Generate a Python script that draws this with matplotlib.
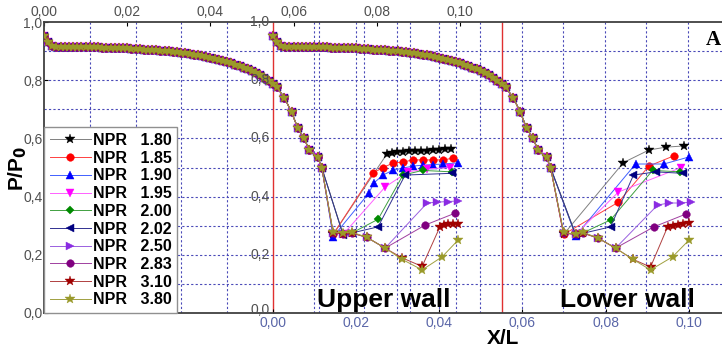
import matplotlib
matplotlib.use("Agg")
import matplotlib.pyplot as plt
import matplotlib.transforms as mtransforms

plt.rcParams['font.family'] = ['Liberation Sans', 'DejaVu Sans']

# shift of the lower-wall curves on the shared axis (top axis units)
OFF = 0.055

# smooth part, same for every NPR (x/L, P/P0)
x_common = [0.000, 0.001, 0.002, 0.003, 0.004, 0.005, 0.006, 0.007, 0.008, 0.009,
            0.010, 0.011, 0.012, 0.013, 0.014, 0.015, 0.016, 0.017, 0.018, 0.019,
            0.020, 0.021, 0.022, 0.023, 0.024, 0.025, 0.026, 0.027, 0.028, 0.029,
            0.030, 0.031, 0.032, 0.033, 0.034, 0.035, 0.036, 0.037, 0.038, 0.039,
            0.040, 0.041, 0.042, 0.043, 0.044, 0.045, 0.046, 0.047, 0.048, 0.049,
            0.050, 0.051, 0.052, 0.053, 0.054, 0.055, 0.056,
            0.0578, 0.0595, 0.0610, 0.0625, 0.0638, 0.0658, 0.0668]
p_common = [0.952, 0.930, 0.917, 0.915, 0.915, 0.915, 0.915, 0.914, 0.914, 0.914,
            0.914, 0.913, 0.913, 0.913, 0.912, 0.912, 0.911, 0.911, 0.910, 0.910,
            0.909, 0.908, 0.907, 0.906, 0.905, 0.904, 0.904, 0.903, 0.902, 0.901,
            0.899, 0.898, 0.896, 0.894, 0.892, 0.890, 0.888, 0.885, 0.883, 0.880,
            0.877, 0.874, 0.870, 0.866, 0.862, 0.858, 0.853, 0.848, 0.843, 0.838,
            0.832, 0.825, 0.817, 0.808, 0.797, 0.786, 0.775,
            0.740, 0.690, 0.636, 0.600, 0.560, 0.535, 0.498]

npr = ['1.80', '1.85', '1.90', '1.95', '2.00', '2.02', '2.50', '2.83', '3.10', '3.80']
colors = ['black', '#ff0000', '#0000ff', '#ff00ff', '#008a00', '#000080',
          '#8a2be2', '#800080', '#a00000', '#9a9a2a']
line_colors = ['#808080', '#ff4040', '#4060ff', '#ff60ff', '#40a040', '#303090',
               '#9a60e0', '#a040a0', '#b04040', '#a0a040']
markers = ['*', 'o', '^', 'v', 'D', '<', '>', 'o', '*', '*']
msizes = [7, 5.5, 5.5, 5.5, 4.5, 5.5, 5.5, 5.5, 7, 7]

# upper wall, after the common part
upper_x = [
    [0.0695, 0.0825, 0.0837, 0.0849, 0.0863, 0.0877, 0.0892, 0.0906, 0.0921, 0.0935, 0.0950, 0.0964, 0.0978],
    [0.0695, 0.0791, 0.0815, 0.0839, 0.0863, 0.0887, 0.0911, 0.0935, 0.0959, 0.0983],
    [0.0695, 0.0781, 0.0793, 0.0815, 0.0839, 0.0863, 0.0887, 0.0911, 0.0935, 0.0959, 0.0995],
    [0.0719, 0.0820, 0.0875, 0.0920, 0.0976],
    [0.0719, 0.0740, 0.0803, 0.0863, 0.0910, 0.0981],
    [0.0719, 0.0740, 0.0803, 0.0868, 0.0980],
    [0.0695, 0.0719, 0.0740, 0.0776, 0.0820, 0.0921, 0.0945, 0.0970, 0.0995],
    [0.0695, 0.0719, 0.0740, 0.0776, 0.0820, 0.0916, 0.0988],
    [0.0695, 0.0719, 0.0740, 0.0776, 0.0820, 0.0860, 0.0909, 0.0952, 0.0962, 0.0972, 0.0982, 0.0995],
    [0.0695, 0.0719, 0.0740, 0.0776, 0.0820, 0.0860, 0.0909, 0.0957, 0.0995],
]
upper_p = [
    [0.270, 0.548, 0.551, 0.552, 0.554, 0.555, 0.556, 0.557, 0.558, 0.559, 0.560, 0.562, 0.565],
    [0.270, 0.481, 0.500, 0.515, 0.519, 0.526, 0.526, 0.526, 0.526, 0.532],
    [0.262, 0.412, 0.447, 0.474, 0.491, 0.498, 0.505, 0.508, 0.510, 0.512, 0.516],
    [0.270, 0.433, 0.485, 0.495, 0.500],
    [0.270, 0.275, 0.322, 0.474, 0.490, 0.485],
    [0.268, 0.275, 0.296, 0.474, 0.480],
    [0.275, 0.272, 0.275, 0.260, 0.223, 0.378, 0.381, 0.383, 0.385],
    [0.275, 0.272, 0.275, 0.260, 0.223, 0.302, 0.343],
    [0.275, 0.272, 0.275, 0.260, 0.223, 0.190, 0.160, 0.297, 0.303, 0.305, 0.306, 0.307],
    [0.278, 0.275, 0.278, 0.260, 0.223, 0.185, 0.148, 0.193, 0.250],
]

# lower wall, after the common part
lower_x = [
    [0.0699, 0.0843, 0.0904, 0.0945, 0.0988],
    [0.0699, 0.0831, 0.0904, 0.0964],
    [0.0728, 0.0872, 0.0940, 0.1000],
    [0.0728, 0.0831, 0.0982],
    [0.0728, 0.0745, 0.0812, 0.0913, 0.0980],
    [0.0728, 0.0812, 0.0867, 0.0920, 0.0986],
    [0.0699, 0.0728, 0.0745, 0.0781, 0.0824, 0.0925, 0.0952, 0.0981, 0.1005],
    [0.0699, 0.0728, 0.0745, 0.0781, 0.0824, 0.0916, 0.0993],
    [0.0699, 0.0728, 0.0745, 0.0781, 0.0824, 0.0865, 0.0908, 0.0949, 0.0961, 0.0973, 0.0985, 0.1000],
    [0.0699, 0.0728, 0.0745, 0.0781, 0.0824, 0.0865, 0.0908, 0.0961, 0.1000],
]
lower_p = [
    [0.270, 0.517, 0.560, 0.570, 0.574],
    [0.270, 0.381, 0.505, 0.540],
    [0.265, 0.512, 0.512, 0.536],
    [0.270, 0.416, 0.500],
    [0.270, 0.275, 0.320, 0.490, 0.485],
    [0.268, 0.296, 0.474, 0.485, 0.480],
    [0.275, 0.270, 0.275, 0.258, 0.223, 0.371, 0.378, 0.378, 0.381],
    [0.275, 0.270, 0.275, 0.258, 0.223, 0.296, 0.340],
    [0.275, 0.270, 0.275, 0.258, 0.223, 0.185, 0.158, 0.296, 0.300, 0.303, 0.306, 0.310],
    [0.278, 0.270, 0.278, 0.258, 0.223, 0.185, 0.148, 0.193, 0.250],
]

top_ticks = [0.00, 0.02, 0.04, 0.06, 0.08, 0.10]
bottom_ticks = [0.00, 0.02, 0.04, 0.06, 0.08, 0.10]
y_ticks = [0.0, 0.2, 0.4, 0.6, 0.8, 1.0]

fig = plt.figure(figsize=(7.22, 3.53), dpi=100)
ax = fig.add_axes([44 / 722, 40 / 353, 678 / 722, 291 / 353])
ax.set_xlim(0, 678 / 4160)
ax.set_ylim(0, 1.0)

# grids: two overlapped plots, each with its own vertical grid
grid_kw = dict(color='#4a4ab8', lw=0.8, ls=(0, (2, 2)), zorder=0)
for v in [0.1, 0.2, 0.3, 0.4, 0.5, 0.6, 0.7, 0.8, 0.9]:
    ax.axhline(v, **grid_kw)
for k in range(1, 10):
    if k != 5:
        ax.axvline(0.011 * k, **grid_kw)
for k in range(1, 11):
    ax.axvline(OFF + 0.00998 * k, **grid_kw)
ax.axvline(OFF, color='#e03030', lw=1.0, zorder=1)
ax.axvline(0.110, color='#e03030', lw=1.0, zorder=1)

for i in range(len(npr)):
    xu = x_common + upper_x[i]
    pu = p_common + upper_p[i]
    xl = [OFF + v for v in x_common + lower_x[i]]
    pl = p_common + lower_p[i]
    ax.plot(xu, pu, color=line_colors[i], lw=0.7, marker=markers[i], ms=msizes[i],
            mfc=colors[i], mec=colors[i], mew=0.3, label='NPR   ' + npr[i], zorder=2 + i)
    ax.plot(xl, pl, color=line_colors[i], lw=0.7, marker=markers[i], ms=msizes[i],
            mfc=colors[i], mec=colors[i], mew=0.3, zorder=2 + i)

# axes styling
ax.spines['right'].set_visible(False)
for s in ['left', 'bottom', 'top']:
    ax.spines[s].set_color('#404040')
    ax.spines[s].set_linewidth(1.3)

ax.set_yticks(y_ticks)
ax.set_yticklabels([('%.1f' % v).replace('.', ',') for v in y_ticks])
ax.tick_params(axis='y', direction='in', length=3, pad=1, labelsize=10, labelcolor='#505050')

ax.set_xticks([OFF + v for v in bottom_ticks])
ax.set_xticklabels([('%.2f' % v).replace('.', ',') for v in bottom_ticks])
ax.tick_params(axis='x', direction='in', length=3, pad=2, labelsize=10, labelcolor='#5a66a8')

top = ax.secondary_xaxis('top')
top.set_xticks(top_ticks)
top.set_xticklabels([('%.2f' % v).replace('.', ',') for v in top_ticks])
top.tick_params(direction='in', length=3, pad=2, labelsize=10, labelcolor='#505050')
top.spines['top'].set_visible(False)

# y tick labels of the second (lower wall) plot
trans = mtransforms.blended_transform_factory(ax.transData, ax.transData)
for v in y_ticks:
    ax.text(OFF - 0.0008, v + (0.012 if v == 0.0 else 0), ('%.1f' % v).replace('.', ','),
            transform=trans, ha='right', va='center', fontsize=10, color='#505050', zorder=20)

ax.text(0.0657, 0.045, 'Upper wall', fontsize=19, fontweight='bold', ha='left', va='center', zorder=30)
ax.text(0.1240, 0.045, 'Lower wall', fontsize=19, fontweight='bold', ha='left', va='center', zorder=30)
fig.text(503 / 722, 1 - 338 / 353, 'X/L', fontsize=15, fontweight='bold', ha='center', va='center')
fig.text(18 / 722, 1 - 168 / 353, 'P/P$_\\mathbf{0}$', fontsize=15, fontweight='bold',
         rotation=90, ha='center', va='center')
fig.text(713 / 722, 1 - 40 / 353, 'A', fontsize=15, fontweight='bold', family='Liberation Serif',
         ha='center', va='center')

leg = ax.legend(loc='lower left', bbox_to_anchor=(0, 0), borderaxespad=0,
                prop={'weight': 'bold', 'size': 11.5}, labelspacing=0.17, handlelength=2.6,
                handletextpad=0.1, borderpad=0.35, fancybox=False, framealpha=1,
                edgecolor='#909090')
leg.get_frame().set_linewidth(1.0)
leg.set_zorder(40)

fig.savefig('out.png', dpi=100)
